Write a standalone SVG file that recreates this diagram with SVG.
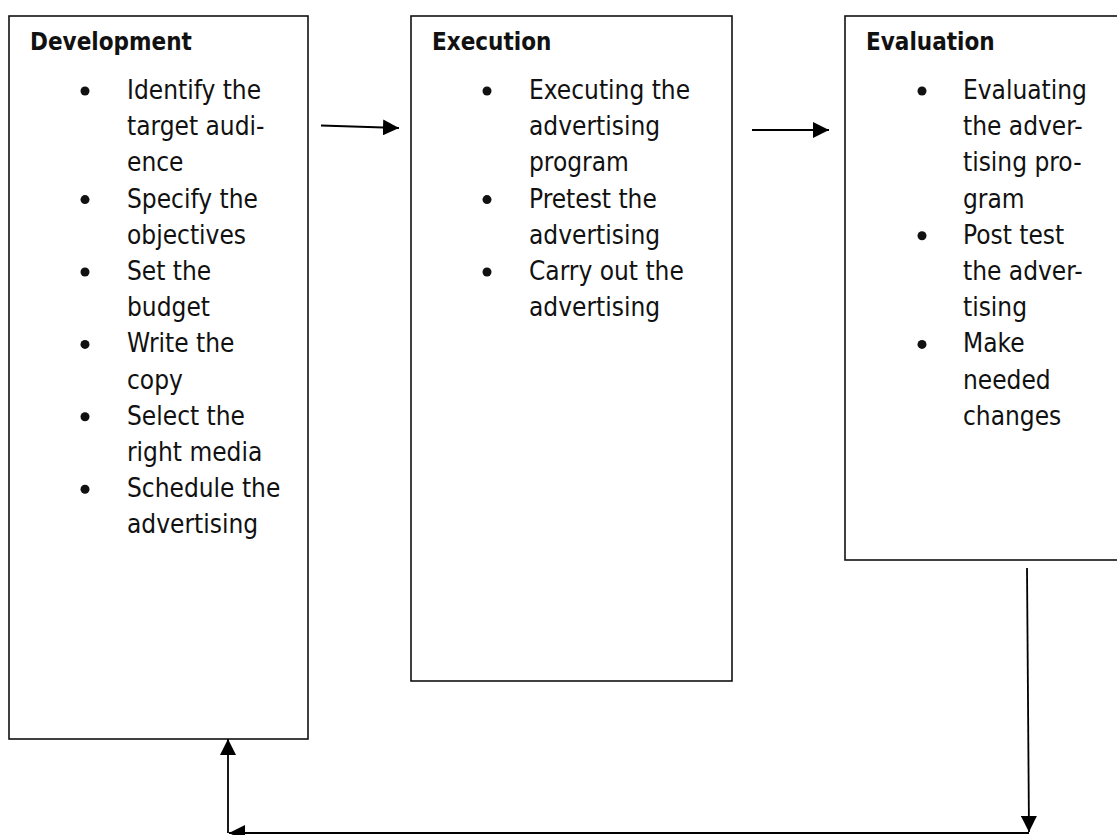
<svg xmlns="http://www.w3.org/2000/svg" width="1117" height="835" viewBox="0 0 1117 835">
<style>
.box{fill:#fff;stroke:#111;stroke-width:1.6}
.h{font-family:"DejaVu Sans Condensed","DejaVu Sans",sans-serif;font-stretch:condensed;font-weight:bold;font-size:24px;fill:#111}
.t{font-family:"DejaVu Sans Condensed","DejaVu Sans",sans-serif;font-stretch:condensed;font-size:26px;fill:#111}
.b{fill:#111}
.c{fill:none;stroke:#000;stroke-width:1.8}
</style>
<defs>
<marker id="ah" viewBox="0 0 16 16" refX="16" refY="8" markerWidth="16" markerHeight="16" markerUnits="userSpaceOnUse" orient="auto">
<path d="M0,0 L16,8 L0,16 z" fill="#000"/>
</marker>
</defs>
<rect width="1117" height="835" fill="#fff"/>
<g id="development">
<rect class="box" x="9" y="16" width="299" height="723"/>
<text class="h" x="30" y="50">Development</text>
<circle class="b" cx="85" cy="91" r="4.5"/>
<circle class="b" cx="85" cy="199.6" r="4.5"/>
<circle class="b" cx="85" cy="272" r="4.5"/>
<circle class="b" cx="85" cy="344.4" r="4.5"/>
<circle class="b" cx="85" cy="416.8" r="4.5"/>
<circle class="b" cx="85" cy="489.2" r="4.5"/>
<text class="t" x="127" y="99">Identify the</text>
<text class="t" x="127" y="135.2">target audi-</text>
<text class="t" x="127" y="171.4">ence</text>
<text class="t" x="127" y="207.6">Specify the</text>
<text class="t" x="127" y="243.8">objectives</text>
<text class="t" x="127" y="280">Set the</text>
<text class="t" x="127" y="316.2">budget</text>
<text class="t" x="127" y="352.4">Write the</text>
<text class="t" x="127" y="388.6">copy</text>
<text class="t" x="127" y="424.8">Select the</text>
<text class="t" x="127" y="461">right media</text>
<text class="t" x="127" y="497.2">Schedule the</text>
<text class="t" x="127" y="533.4">advertising</text>
</g>
<g id="execution">
<rect class="box" x="411" y="16" width="321" height="665"/>
<text class="h" x="432" y="50">Execution</text>
<circle class="b" cx="487" cy="91" r="4.5"/>
<circle class="b" cx="487" cy="199.6" r="4.5"/>
<circle class="b" cx="487" cy="272" r="4.5"/>
<text class="t" x="529" y="99">Executing the</text>
<text class="t" x="529" y="135.2">advertising</text>
<text class="t" x="529" y="171.4">program</text>
<text class="t" x="529" y="207.6">Pretest the</text>
<text class="t" x="529" y="243.8">advertising</text>
<text class="t" x="529" y="280">Carry out the</text>
<text class="t" x="529" y="316.2">advertising</text>
</g>
<g id="evaluation">
<rect class="box" x="845" y="16" width="300" height="544"/>
<text class="h" x="866" y="50">Evaluation</text>
<circle class="b" cx="922" cy="91" r="4.5"/>
<circle class="b" cx="922" cy="235.8" r="4.5"/>
<circle class="b" cx="922" cy="344.4" r="4.5"/>
<text class="t" x="963" y="99">Evaluating</text>
<text class="t" x="963" y="135.2">the adver-</text>
<text class="t" x="963" y="171.4">tising pro-</text>
<text class="t" x="963" y="207.6">gram</text>
<text class="t" x="963" y="243.8">Post test</text>
<text class="t" x="963" y="280">the adver-</text>
<text class="t" x="963" y="316.2">tising</text>
<text class="t" x="963" y="352.4">Make</text>
<text class="t" x="963" y="388.6">needed</text>
<text class="t" x="963" y="424.8">changes</text>
</g>
<g id="connectors">
<line class="c" x1="321" y1="125.5" x2="399" y2="128" marker-end="url(#ah)"/>
<line class="c" x1="752" y1="130" x2="829" y2="130" marker-end="url(#ah)"/>
<line class="c" x1="1027" y1="568" x2="1029" y2="832" marker-end="url(#ah)"/>
<line class="c" x1="1029" y1="833" x2="229" y2="833" marker-end="url(#ah)"/>
<line class="c" x1="228" y1="833" x2="228" y2="739" marker-end="url(#ah)"/>
</g>
</svg>
